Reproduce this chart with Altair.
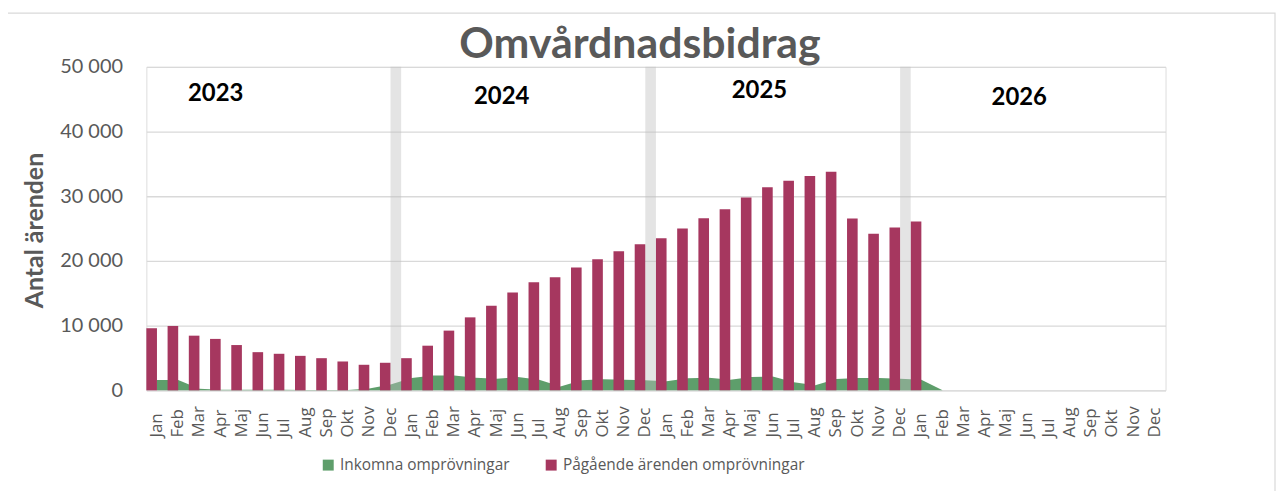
import altair as alt
import pandas as pd

# ---- data ----
years = [2023, 2024, 2025, 2026]
month_names = ["Jan", "Feb", "Mar", "Apr", "Maj", "Jun", "Jul", "Aug", "Sep", "Okt", "Nov", "Dec"]

# Pågående ärenden omprövningar, Jan 2023 .. Jan 2026
pagaende = [
    9600, 9950, 8450, 7950, 7000, 5900, 5650, 5330, 4970, 4460, 3950, 4260,
    4970, 6900, 9230, 11280, 13080, 15130, 16720, 17490, 18970, 20260, 21490, 22600,
    23490, 25030, 26600, 28000, 29790, 31380, 32410, 33130, 33790, 26560, 24200, 25180,
    26100,
]

# Inkomna omprövningar, Jan 2023 .. Feb 2026
inkomna = [
    1600, 1600, 250, 100, 80, 80, 80, 60, 60, 60, 300, 900,
    1900, 2300, 2300, 1950, 1800, 2050, 1650, 600, 1550, 1700, 1650, 1550,
    1400, 1850, 1950, 1650, 2050, 2150, 1250, 770, 1750, 1900, 1900, 1800,
    1650, 0,
]

separator_months = ["2023 Dec", "2024 Dec", "2025 Dec"]
separator_value = 50000

year_labels = ["2023", "2024", "2025", "2026"]
year_anchor = ["2023 Apr", "2024 Maj", "2025 Maj", "2026 Maj"]

series_names = ["Inkomna omprövningar", "Pågående ärenden omprövningar"]
series_colors = ["#5E9E6B", "#A6375F"]

y_ticks = [0, 10000, 20000, 30000, 40000, 50000]

keys = [f"{y} {m}" for y in years for m in month_names]
n = len(keys)
df = pd.DataFrame({
    "key": keys,
    "pagaende": pagaende + [None] * (n - len(pagaende)),
    "inkomna": inkomna + [None] * (n - len(inkomna)),
    "sep": [separator_value if k in separator_months else None for k in keys],
})

GREY = "#595959"

x_scale = alt.Scale(domain=keys, paddingInner=0, paddingOuter=0)
x_axis = alt.Axis(
    title=None,
    labelExpr="split(datum.value, ' ')[1]",
    labelAngle=270,
    labelAlign="left",
    labelBaseline="middle",
    labelPadding=47,
    labelFont="Open Sans",
    labelFontSize=17,
    labelColor=GREY,
    labelOverlap=False,
    ticks=False,
    domain=False,
    grid=False,
)


def xenc(**kw):
    return alt.X("key:N", sort=keys, scale=x_scale, axis=x_axis, **kw)


y_scale = alt.Scale(domain=[0, 50000], nice=False)
y_axis = alt.Axis(
    title="Antal ärenden",
    values=y_ticks,
    labelExpr="replace(format(datum.value, ','), ',', ' ')",
    labelFont="Lato",
    labelFontSize=20,
    labelColor=GREY,
    labelPadding=24,
    ticks=False,
    domain=False,
    gridColor="#d9d9d9",
    gridWidth=1.3,
    titleFont="Lato",
    titleFontSize=25,
    titleFontWeight="bold",
    titleColor=GREY,
    titleX=-112,
    titleY=164,
    titleAngle=270,
    titleAlign="center",
    titleBaseline="middle",
)

color_enc = alt.Color(
    "serie:N",
    scale=alt.Scale(domain=series_names, range=series_colors),
    legend=alt.Legend(
        orient="none",
        legendX=175,
        legendY=392,
        direction="horizontal",
        title=None,
        symbolType="square",
        symbolSize=121,
        symbolStrokeWidth=0,
        labelFont="Open Sans",
        labelFontSize=15.5,
        labelColor=GREY,
        labelOffset=4,
        labelLimit=500,
        columnPadding=33,
    ),
)

base = alt.Chart(df)

area = base.transform_calculate(serie=f"'{series_names[0]}'").mark_area().encode(
    x=xenc(bandPosition=0.5),
    y=alt.Y("inkomna:Q", scale=y_scale, axis=y_axis),
    color=color_enc,
)

bars = base.transform_calculate(serie=f"'{series_names[1]}'").mark_bar(
    width=alt.RelativeBandSize(0.5), xOffset=-5.33
).encode(
    x=xenc(),
    y=alt.Y("pagaende:Q", scale=y_scale, axis=y_axis),
    color=color_enc,
)

seps = base.mark_bar(
    width=alt.RelativeBandSize(0.5), xOffset=5.33, color="#bfbfbf", opacity=0.42
).encode(
    x=xenc(),
    y=alt.Y("sep:Q", scale=y_scale, axis=y_axis),
)

year_dx = [-5, 5, 8, 13]
year_y = [34, 37, 31, 38]
texts = []
for lab, anc, dx, yy in zip(year_labels, year_anchor, year_dx, year_y):
    texts.append(
        alt.Chart(alt.Data(values=[{"key": anc, "label": lab}])).mark_text(
            font="Lato", fontSize=24, fontWeight="bold", color="black",
            baseline="alphabetic", align="center", dx=dx,
        ).encode(
            x=xenc(),
            y=alt.value(yy),
            text="label:N",
        )
    )

border = alt.Chart(alt.Data(values=[{"a": 1}])).mark_rect(
    filled=False, stroke="#d9d9d9", strokeWidth=1.2
).encode(
    x=alt.value(-140), x2=alt.value(1134), y=alt.value(-54), y2=alt.value(460)
)

chart = alt.layer(area, bars, seps, *texts, border).properties(
    width=1024,
    height=325,
    title=alt.Title(
        "Omvårdnadsbidrag",
        font="Lato",
        fontSize=43,
        fontWeight="bold",
        color=GREY,
        anchor="middle",
        dx=-16,
        dy=92,
        offset=3,
        baseline="alphabetic",
    ),
    autosize=alt.AutoSizeParams(type="none"),
    padding={"left": 139, "top": 58, "right": 112, "bottom": 100},
).configure_view(stroke=None).configure(background="white")

chart.save("out.html", embed_options={"renderer": "svg", "actions": False})
